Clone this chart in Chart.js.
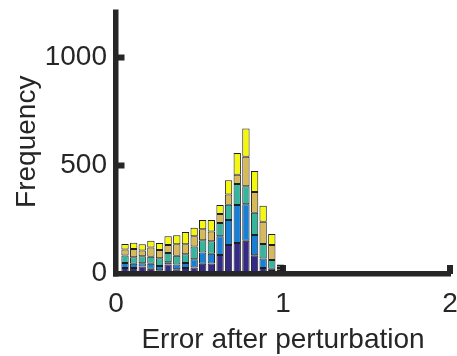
<!DOCTYPE html>
<html>
<head>
<meta charset="utf-8">
<script src="https://cdn.jsdelivr.net/npm/chart.js@4"></script>
<style>
  html, body { margin: 0; padding: 0; background: #ffffff; }
  #wrap { width: 457px; height: 356px; }
</style>
</head>
<body>
<div id="wrap"><canvas id="c" width="457" height="356"></canvas></div>
<script>
// Bin centres (Error after perturbation)
const binCenters = [0.054, 0.106, 0.157, 0.209, 0.261, 0.312, 0.364, 0.416, 0.468, 0.519,
                    0.571, 0.623, 0.674, 0.726, 0.778, 0.830, 0.881, 0.933, 0.985, 1.036, 1.088];
// Stacked series, bottom to top
const series1 = [26, 25, 32, 22, 15, 42, 20, 26, 28, 45, 46, 86, 132, 141, 152, 85, 26, 12, 12, 3, 2];
const series2 = [23, 20, 16, 23, 20, 10, 22, 23, 38, 52, 45, 86, 116, 176, 169, 93, 43, 10, 5, 0, 0];
const series3 = [34, 30, 32, 33, 36, 43, 40, 40, 59, 57, 58, 62, 70, 97, 83, 103, 68, 41, 9, 0, 0];
const series4 = [28, 39, 26, 42, 38, 37, 53, 46, 47, 51, 45, 41, 48, 43, 136, 96, 103, 69, 8, 0, 0];
const series5 = [26, 28, 29, 32, 32, 40, 42, 57, 40, 43, 54, 42, 66, 101, 131, 98, 74, 51, 8, 0, 0];
// Axis ticks
const xTicks = [0, 1, 2];
const yTicks = [0, 500, 1000];
const xMin = 0, xMax = 2, yMin = 0, yMax = 1220;

const seriesList = [series1, series2, series3, series4, series5];
const colors = ['#352a86', '#1780d6', '#37b49c', '#d8b95a', '#f6f70f'];

const datasets = seriesList.map((s, i) => ({
  label: 'S' + (i + 1),
  data: s.map((v, j) => ({ x: binCenters[j], y: v })),
  backgroundColor: colors[i],
  borderColor: '#1e1e1e',
  borderWidth: 1,
  borderSkipped: false,
  categoryPercentage: 1.0,
  barPercentage: 0.86
}));

const AX = '#262626';
const FONT = { family: 'Liberation Sans, Arial, sans-serif', size: 28 };
const axesPlugin = {
  id: 'matlabAxes',
  beforeDatasetsDraw(chart) {
    const ctx = chart.ctx;
    const xs = chart.scales.x, ys = chart.scales.y;
    const ax = xs.getPixelForValue(xMin);
    const ay = ys.getPixelForValue(yMin);
    ctx.save();
    ctx.fillStyle = AX;
    yTicks.forEach(v => {
      if (v === yMin) return;
      const py = ys.getPixelForValue(v);
      ctx.fillRect(ax + 2, py - 3, 6.5, 6);
    });
    xTicks.forEach(v => {
      if (v === xMin) return;
      const px = xs.getPixelForValue(v);
      ctx.fillRect(px - 3, ay - 8.5, 6, 9);
    });
    ctx.restore();
  },
  afterDatasetsDraw(chart) {
    const ctx = chart.ctx;
    const xs = chart.scales.x, ys = chart.scales.y;
    const ax = xs.getPixelForValue(xMin);
    const ay = ys.getPixelForValue(yMin);
    const top = ys.getPixelForValue(yMax);
    const right = xs.getPixelForValue(xMax);
    ctx.save();
    ctx.fillStyle = AX;
    ctx.fillRect(ax - 3, top - 0.5, 5.5, ay - top + 3.5);
    ctx.fillRect(ax - 3, ay - 2.5, right - ax + 4, 5.5);
    ctx.restore();
  }
};

new Chart(document.getElementById('c'), {
  type: 'bar',
  data: { datasets },
  plugins: [axesPlugin],
  options: {
    responsive: false,
    animation: false,
    devicePixelRatio: 1,
    layout: { padding: { left: 0, right: 7, top: 10, bottom: 0 } },
    plugins: { legend: { display: false }, tooltip: { enabled: false } },
    scales: {
      x: {
        type: 'linear',
        stacked: true,
        offset: false,
        min: xMin, max: xMax,
        afterBuildTicks(scale) { scale.ticks = xTicks.map(v => ({ value: v })); },
        afterFit(scale) {
          scale.height = 82.5;
          scale.paddingLeft = 0; scale.paddingRight = 0;
        },
        grid: { display: false, drawTicks: false },
        border: { display: false },
        ticks: {
          color: AX,
          font: FONT,
          padding: 14,
          maxRotation: 0,
          autoSkip: false,
          callback: v => String(v)
        },
        title: {
          display: true,
          text: 'Error after perturbation',
          color: AX,
          font: FONT,
          padding: { top: 0, bottom: -1.5 }
        }
      },
      y: {
        stacked: true,
        min: yMin, max: yMax,
        afterBuildTicks(scale) { scale.ticks = yTicks.map(v => ({ value: v })); },
        afterFit(scale) {
          scale.width = 116;
          scale.paddingTop = 0; scale.paddingBottom = 0;
        },
        grid: { display: false, drawTicks: false },
        border: { display: false },
        ticks: {
          color: AX,
          font: FONT,
          padding: 9,
          autoSkip: false,
          callback: v => String(v)
        },
        title: {
          display: true,
          text: 'Frequency',
          color: AX,
          font: FONT,
          padding: { top: 10, bottom: 0 }
        }
      }
    }
  }
});
</script>
</body>
</html>
